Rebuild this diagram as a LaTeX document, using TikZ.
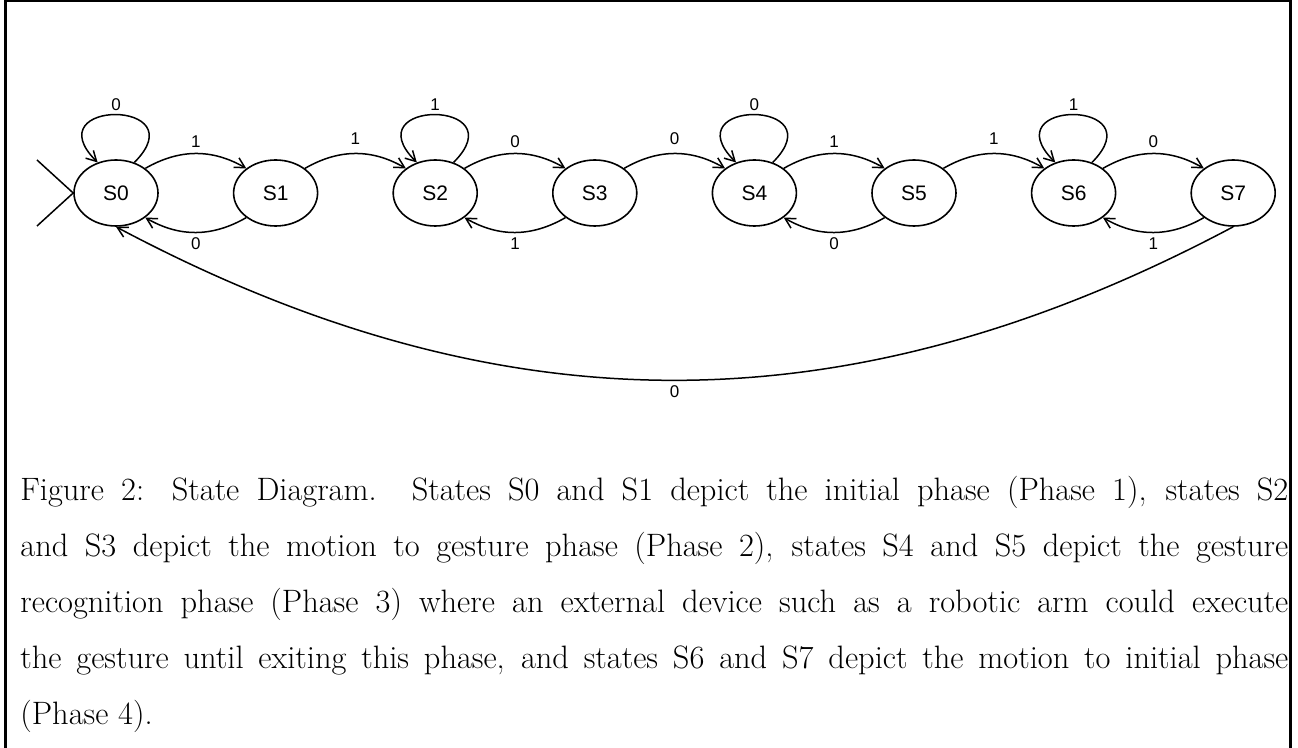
\documentclass[tikz,border=0pt]{standalone}
\usepackage{fontspec}
\newfontfamily\helv{Liberation Sans}
\usetikzlibrary{arrows.meta,shapes.geometric,positioning}

\begin{document}
\begin{tikzpicture}[
  x=0.5pt, y=0.5pt,
  >={Straight Barb[length=5pt,width=5.5pt]},
  state/.style={ellipse, draw, line width=0.8pt, inner sep=0pt, minimum width=42pt, minimum height=33pt, font=\helv\fontsize{10.5}{12}\selectfont},
  arr/.style={->, line width=0.75pt},
  lbl/.style={font=\helv\fontsize{8.5}{10}\selectfont, inner sep=2.5pt},
  frame/.style={line width=1.5pt},
  caption/.style={anchor=north west, inner sep=0pt}
]

  \useasboundingbox (0,0) rectangle (1298,-748);

  % outer frame (bottom edge runs off the page)
  \draw[frame] (5.5,-748) -- (5.5,-1) -- (1290.5,-1) -- (1290.5,-748);

  % States
  \node[state] (s0) at (116,-193) {S0};
  \node[state, right=37pt of s0] (s1) {S1};
  \node[state, right=37pt of s1] (s2) {S2};
  \node[state, right=37pt of s2] (s3) {S3};
  \node[state, right=37pt of s3] (s4) {S4};
  \node[state, right=37pt of s4] (s5) {S5};
  \node[state, right=37pt of s5] (s6) {S6};
  \node[state, right=37pt of s6] (s7) {S7};

  % Start marker
  \coordinate (in1) at (37,-160);
  \coordinate (in2) at (37,-226);
  \draw[line width=0.75pt] (in1) -- (s0.west) -- (in2);

  % Self loops
  \draw[arr] (s0.59) to[out=45,in=135,distance=45pt] node[lbl,above,inner sep=1.5pt]{0} (s0.121);
  \draw[arr] (s2.59) to[out=45,in=135,distance=45pt] node[lbl,above,inner sep=1.5pt]{1} (s2.121);
  \draw[arr] (s4.59) to[out=45,in=135,distance=45pt] node[lbl,above,inner sep=1.5pt]{0} (s4.121);
  \draw[arr] (s6.59) to[out=45,in=135,distance=45pt] node[lbl,above,inner sep=1.5pt]{1} (s6.121);

  % Phase 1
  \draw[arr] (s0.40) to[out=30,in=150] node[lbl,above]{1} (s1.140);
  \draw[arr] (s1.220) to[out=210,in=330] node[lbl,below]{0} (s0.320);
  \draw[arr] (s1.40) to[out=30,in=150] node[lbl,above,inner sep=4pt]{1} (s2.140);

  % Phase 2
  \draw[arr] (s2.40) to[out=30,in=150] node[lbl,above]{0} (s3.140);
  \draw[arr] (s3.220) to[out=210,in=330] node[lbl,below]{1} (s2.320);
  \draw[arr] (s3.40) to[out=30,in=150] node[lbl,above,inner sep=4pt]{0} (s4.140);

  % Phase 3
  \draw[arr] (s4.40) to[out=30,in=150] node[lbl,above]{1} (s5.140);
  \draw[arr] (s5.220) to[out=210,in=330] node[lbl,below]{0} (s4.320);
  \draw[arr] (s5.40) to[out=30,in=150] node[lbl,above,inner sep=4pt]{1} (s6.140);

  % Phase 4
  \draw[arr] (s6.40) to[out=30,in=150] node[lbl,above]{0} (s7.140);
  \draw[arr] (s7.220) to[out=210,in=330] node[lbl,below]{1} (s6.320);
  \draw[arr] (s7.south) to[out=208,in=332] node[lbl,below]{0} (s0.south);

  % Caption
  \node[caption] (cap) at (20,-476) {\parbox[t]{634pt}{\fontsize{16.2pt}{28pt}\selectfont
    Figure 2: State Diagram.  States S0 and S1 depict the initial phase (Phase 1), states S2\linebreak
    and S3 depict the motion to gesture phase (Phase 2), states S4 and S5 depict the gesture\linebreak
    recognition phase (Phase 3) where an external device such as a robotic arm could execute\linebreak
    the gesture until exiting this phase, and states S6 and S7 depict the motion to initial phase\linebreak
    (Phase 4).\par}};

\end{tikzpicture}
\end{document}
